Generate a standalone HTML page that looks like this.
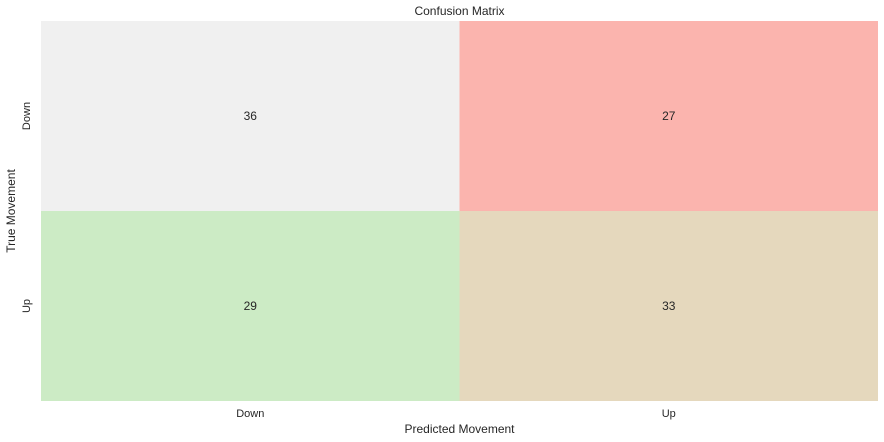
<!DOCTYPE html>
<html><head><meta charset="utf-8"><style>
body{margin:0;background:#fff;}
svg{display:block;font-family:"Liberation Sans","DejaVu Sans",sans-serif;}
</style></head><body>
<svg id="chart" width="884" height="442">
<text x="459.5" y="15" text-anchor="middle" font-size="12" fill="#262626">Confusion Matrix</text>
<g id="cells"></g>
<g id="xticks"></g>
<g id="yticks"></g>
<text x="459.5" y="433" text-anchor="middle" font-size="12" fill="#262626">Predicted Movement</text>
<text transform="translate(15,211) rotate(-90)" text-anchor="middle" font-size="12" fill="#262626">True Movement</text>
</svg>
<script>
const labels = ["Down", "Up"];
const values = [[36, 27], [29, 33]];
const cellColors = [["#f0f0f0", "#fbb4ae"], ["#ccebc5", "#e5d8bd"]];
const L = 41, T = 21, R = 878, B = 401;
const NS = "http://www.w3.org/2000/svg";
const cw = (R - L) / labels.length, ch = (B - T) / labels.length;
const xPos = i => L + i * cw, yPos = i => T + i * ch;
const cells = document.getElementById('cells');
for (let r = 0; r < labels.length; r++) {
  for (let c = 0; c < labels.length; c++) {
    const rect = document.createElementNS(NS, 'rect');
    rect.setAttribute('x', xPos(c)); rect.setAttribute('y', yPos(r));
    rect.setAttribute('width', cw); rect.setAttribute('height', ch);
    rect.setAttribute('fill', cellColors[r][c]);
    
    
    cells.appendChild(rect);
    const t = document.createElementNS(NS, 'text');
    t.setAttribute('x', xPos(c) + cw / 2); t.setAttribute('y', yPos(r) + ch / 2 + 4);
    t.setAttribute('text-anchor', 'middle'); t.setAttribute('font-size', '12'); t.setAttribute('fill', '#262626');
    t.textContent = values[r][c];
    
    
    cells.appendChild(t);
  }
}
const xt = document.getElementById('xticks'), yt = document.getElementById('yticks');
labels.forEach((lab, i) => {
  const t = document.createElementNS(NS, 'text');
  t.setAttribute('x', xPos(i) + cw / 2); t.setAttribute('y', 417);
  t.setAttribute('text-anchor', 'middle'); t.setAttribute('font-size', '11'); t.setAttribute('fill', '#262626');
  t.textContent = lab;
  
  
  xt.appendChild(t);
  const y = document.createElementNS(NS, 'text');
  y.setAttribute('transform', 'translate(30,' + (yPos(i) + ch / 2) + ') rotate(-90)');
  y.setAttribute('text-anchor', 'middle'); y.setAttribute('font-size', '11'); y.setAttribute('fill', '#262626');
  y.textContent = lab;
  
  
  yt.appendChild(y);
});
</script>
</body></html>
